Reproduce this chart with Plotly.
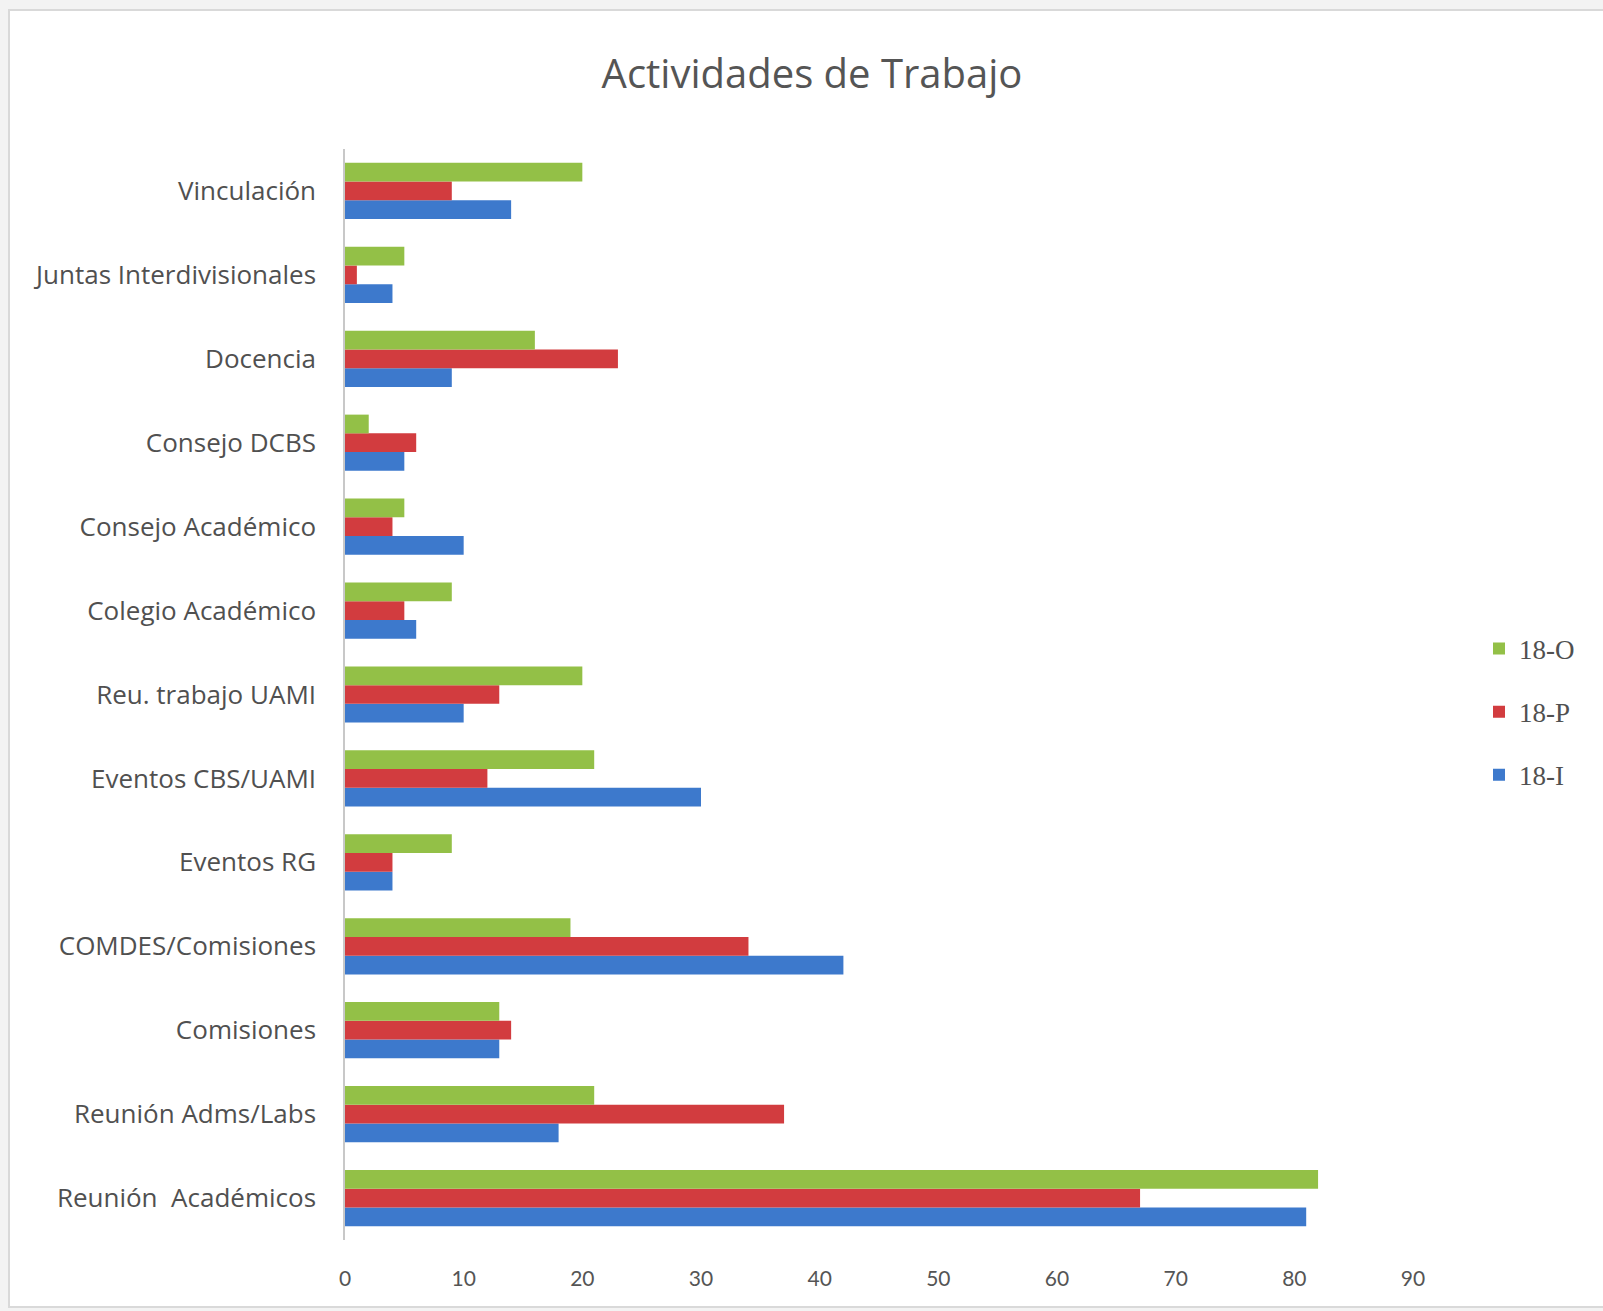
import plotly.graph_objects as go

# Categories listed bottom-to-top as they appear on the y axis
categories = [
    "Reunión  Académicos",
    "Reunión Adms/Labs",
    "Comisiones",
    "COMDES/Comisiones",
    "Eventos RG",
    "Eventos CBS/UAMI",
    "Reu. trabajo UAMI",
    "Colegio Académico",
    "Consejo Académico",
    "Consejo DCBS",
    "Docencia",
    "Juntas Interdivisionales",
    "Vinculación",
]

serie_18I = [81, 18, 13, 42, 4, 30, 10, 6, 10, 5, 9, 4, 14]
serie_18P = [67, 37, 14, 34, 4, 12, 13, 5, 4, 6, 23, 1, 9]
serie_18O = [82, 21, 13, 19, 9, 21, 20, 9, 5, 2, 16, 5, 20]

x_ticks = [0, 10, 20, 30, 40, 50, 60, 70, 80, 90]

W, H = 1603, 1311
ML, MR, MT, MB = 345, 190, 149, 71
plot_w = W - ML - MR
plot_h = H - MT - MB


def px_to_paper_x(px):
    return (px - ML) / plot_w


def px_to_paper_y(py):
    return (H - MB - py) / plot_h


fig = go.Figure()
# (name, values, colour, position in legend from top)
series = [
    ("18-I", serie_18I, "#3d79cc", 3),
    ("18-P", serie_18P, "#d23c3f", 2),
    ("18-O", serie_18O, "#93c047", 1),
]
for name, vals, color, rank in series:
    fig.add_trace(go.Bar(
        y=categories, x=vals, name=name, orientation="h",
        marker=dict(color=color, line=dict(width=0)),
        legendgroup=name, legendrank=rank,
    ))

# Chart frame: white panel with a light border on a grey page
fig.add_shape(
    type="rect", xref="paper", yref="paper", layer="below",
    x0=px_to_paper_x(9), x1=px_to_paper_x(W + 5),
    y0=px_to_paper_y(H - 4), y1=px_to_paper_y(10),
    fillcolor="white", line=dict(color="#d9d9d9", width=2),
)

fig.update_layout(
    width=W, height=H,
    margin=dict(l=ML, r=MR, t=MT, b=MB),
    paper_bgcolor="#f3f3f3",
    plot_bgcolor="rgba(0,0,0,0)",
    barmode="group",
    bargap=0.33,
    bargroupgap=0,
    font=dict(family="'Open Sans', Lato, sans-serif", color="#505050"),
    title=dict(
        text="Actividades de Trabajo",
        x=812 / W, xref="container", xanchor="center",
        y=1 - 74 / H, yref="container", yanchor="middle",
        font=dict(size=40, color="#555555"),
    ),
    xaxis=dict(
        range=[0, 90], tickvals=x_ticks, showgrid=False, zeroline=False,
        showline=False, ticks="outside", ticklen=20, tickcolor="rgba(0,0,0,0)",
        tickfont=dict(family="Lato, sans-serif", size=21, color="#555555"),
        fixedrange=True,
    ),
    yaxis=dict(
        showgrid=False, zeroline=False, showline=True,
        linecolor="#c8c8c8", linewidth=1.5,
        ticks="outside", ticklen=22, tickcolor="rgba(0,0,0,0)",
        tickfont=dict(size=26, color="#505050"),
    ),
    legend=dict(
        x=px_to_paper_x(1479), xanchor="left",
        y=px_to_paper_y(712), yanchor="middle",
        traceorder="grouped",
        tracegroupgap=25,
        bgcolor="rgba(0,0,0,0)",
        font=dict(family="'Liberation Serif', serif", size=27, color="#505050"),
        itemwidth=30,
    ),
    showlegend=True,
)

fig.write_html("out.html")
